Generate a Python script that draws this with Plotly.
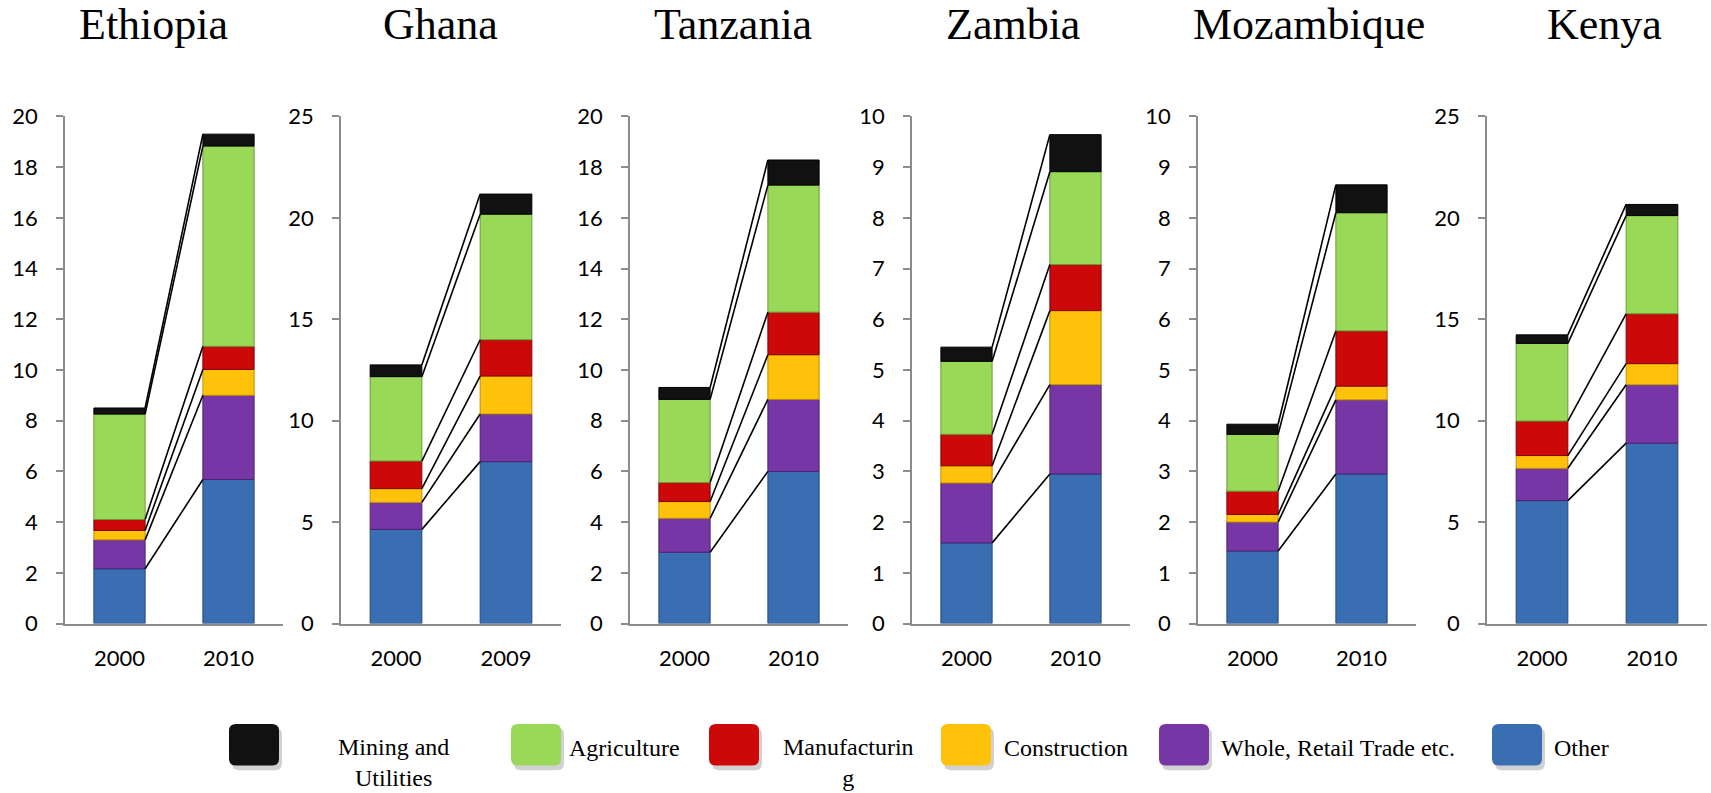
import plotly.graph_objects as go

W, H = 1711, 793

countries = ["Ethiopia", "Ghana", "Tanzania", "Zambia", "Mozambique", "Kenya"]
years = [["2000", "2010"], ["2000", "2009"], ["2000", "2010"],
         ["2000", "2010"], ["2000", "2010"], ["2000", "2010"]]

# stacked from bottom to top
other = [[2.16, 5.68], [4.64, 7.98], [2.81, 6.00], [1.59, 2.95], [1.43, 2.95], [6.06, 8.89]]
trade = [[1.14, 3.32], [1.33, 2.35], [1.34, 2.84], [1.18, 1.76], [0.57, 1.46], [1.59, 2.88]]
construction = [[0.37, 1.02], [0.68, 1.87], [0.66, 1.76], [0.34, 1.46], [0.15, 0.27], [0.63, 1.04]]
manufacturing = [[0.43, 0.91], [1.36, 1.79], [0.75, 1.68], [0.62, 0.91], [0.46, 1.09], [1.70, 2.46]]
agriculture = [[4.16, 7.90], [4.16, 6.19], [3.28, 5.01], [1.44, 1.83], [1.12, 2.33], [3.83, 4.84]]
mining = [[0.24, 0.47], [0.58, 0.99], [0.47, 0.99], [0.28, 0.73], [0.20, 0.55], [0.42, 0.55]]

y_max = [20, 25, 20, 10, 10, 25]
y_step = [2, 5, 2, 1, 1, 5]

series = [
    ("Other", other, "#3A6EB3", "#24497A"),
    ("Whole, Retail Trade etc.", trade, "#7636A6", "#4E2270"),
    ("Construction", construction, "#FFC20A", "#C28F00"),
    ("Manufacturing", manufacturing, "#CC0808", "#7E0505"),
    ("Agriculture", agriculture, "#9AD957", "#6A9A38"),
    ("Mining and Utilities", mining, "#111111", "#000000"),
]

# layout (pixels)
panel_x = [(65, 283), (341, 561), (630, 848), (912, 1130), (1198, 1416), (1487, 1707)]
plot_top, plot_bottom = 106, 631
title_x = [153, 440, 733, 1013, 1309, 1604]
title_y = 11
legend_top = 735
bar_w = 0.47

fig = go.Figure()
layout = {}
annotations = []
shapes = []

for i, c in enumerate(countries):
    ax = "" if i == 0 else str(i + 1)
    xa, ya = "x" + ax, "y" + ax
    cum = [0.0, 0.0]
    bounds = []
    for name, vals, col, edge in series:
        fig.add_trace(go.Bar(
            x=[0, 1], y=vals[i], base=cum[:], width=bar_w,
            marker=dict(color=col, line=dict(color=edge, width=1)),
            name=name, showlegend=False, xaxis=xa, yaxis=ya,
        ))
        cum = [cum[0] + vals[i][0], cum[1] + vals[i][1]]
        bounds.append(cum[:])
    for b in bounds:
        fig.add_trace(go.Scatter(
            x=[bar_w / 2, 1 - bar_w / 2], y=b, mode="lines",
            line=dict(color="black", width=1.6), showlegend=False,
            hoverinfo="skip", xaxis=xa, yaxis=ya,
        ))
    x0, x1 = panel_x[i]
    layout["xaxis" + ax] = dict(
        domain=[x0 / W, x1 / W], anchor=ya, range=[-0.5, 1.5],
        tickvals=[0, 1], ticktext=years[i], showgrid=False, zeroline=False,
        showline=True, linecolor="#8C8C8C", linewidth=1.5, ticks="",
        tickfont=dict(family="Lato", size=22, color="black"),
        ticklabelstandoff=14, fixedrange=True,
    )
    layout["yaxis" + ax] = dict(
        domain=[1 - plot_bottom / H, 1 - plot_top / H], anchor=xa,
        range=[0, y_max[i]], dtick=y_step[i], tick0=0, showgrid=False,
        zeroline=False, showline=True, linecolor="#8C8C8C", linewidth=1.5,
        ticks="outside", ticklen=7, tickcolor="#8C8C8C", tickwidth=1.5,
        tickfont=dict(family="Lato", size=22, color="black"),
        ticklabelstandoff=14, fixedrange=True,
    )
    annotations.append(dict(
        text=c, x=title_x[i] / W, y=1 - title_y / H, xref="paper", yref="paper",
        xanchor="center", yanchor="middle", showarrow=False,
        font=dict(family="Liberation Serif", size=44, color="black"),
    ))

# manual legend
legend_items = [
    ("Mining and<br>Utilities", "#111111", 229, 393, "center"),
    ("Agriculture", "#9AD957", 511, 567, "left"),
    ("Manufacturin<br>g", "#CC0808", 709, 848, "center"),
    ("Construction", "#FFC20A", 941, 1002, "left"),
    ("Whole, Retail Trade etc.", "#7636A6", 1159, 1219, "left"),
    ("Other", "#3A6EB3", 1492, 1552, "left"),
]


def rrect(x0, y0, x1, y1, r):
    X0, X1 = x0 / W, x1 / W
    Y0, Y1 = 1 - y1 / H, 1 - y0 / H
    rx, ry = r / W, r / H
    return (f"M {X0+rx},{Y0} L {X1-rx},{Y0} Q {X1},{Y0} {X1},{Y0+ry} "
            f"L {X1},{Y1-ry} Q {X1},{Y1} {X1-rx},{Y1} L {X0+rx},{Y1} "
            f"Q {X0},{Y1} {X0},{Y1-ry} L {X0},{Y0+ry} Q {X0},{Y0} {X0+rx},{Y0} Z")


for text, col, sx, tx, anchor in legend_items:
    t = legend_top
    shapes.append(dict(type="path", path=rrect(sx + 3, t + 4, sx + 53, t + 48, 7),
                       xref="paper", yref="paper", fillcolor="rgba(0,0,0,0.18)",
                       line=dict(width=0), layer="above"))
    shapes.append(dict(type="path", path=rrect(sx, t, sx + 50, t + 43, 7),
                       xref="paper", yref="paper", fillcolor=col,
                       line=dict(width=0), layer="above"))
    two = "<br>" in text
    annotations.append(dict(
        text=text, x=tx / W, y=1 - (t + (40 if two else 25)) / H,
        xref="paper", yref="paper", xanchor=anchor, yanchor="middle",
        align="center", showarrow=False,
        font=dict(family="Liberation Serif", size=24, color="black"),
    ))

fig.update_layout(
    **layout,
    barmode="overlay",
    width=W, height=H,
    margin=dict(l=0, r=0, t=0, b=0),
    paper_bgcolor="white", plot_bgcolor="white",
    annotations=annotations, shapes=shapes,
    showlegend=False,
)

fig.write_html("out.html", config={"displayModeBar": False})
